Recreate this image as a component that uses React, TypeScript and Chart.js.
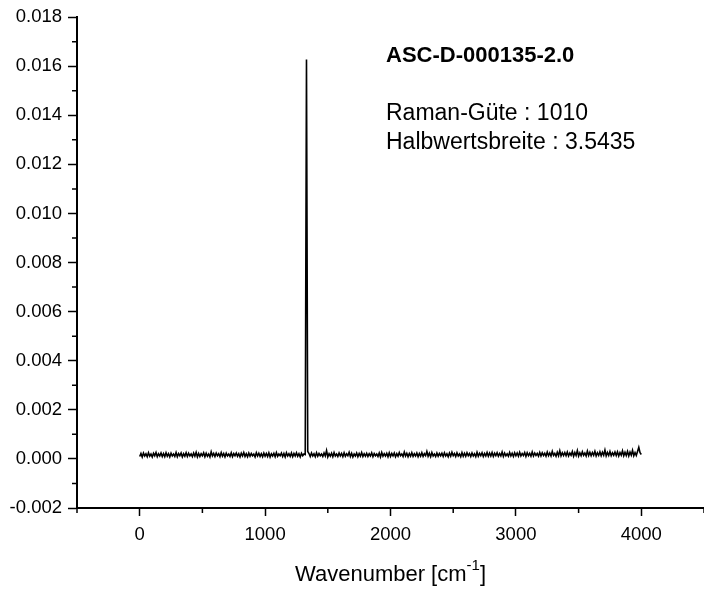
import React, { useEffect, useRef } from "react";
import { Chart, registerables } from "chart.js";

Chart.register(...registerables);

// ---- Data -------------------------------------------------------------
// Spectrum sampled every 10 cm^-1 from 0 to 4000 cm^-1.
const waveStart = 0;
const waveStep = 10;
// Intensity values in units of 1e-5.
const intensityE5: number[] = [
  // 0 - 190
  10, 22, 8, 24, 12, 21, 9, 25, 11, 20, 8, 23, 13, 26, 9, 21, 12, 24, 10, 22,
  // 200 - 390
  9, 25, 11, 21, 8, 23, 12, 20, 10, 26, 9, 22, 13, 24, 8, 21, 11, 25, 10, 23,
  // 400 - 590
  12, 20, 9, 24, 11, 27, 8, 22, 10, 21, 13, 25, 9, 23, 11, 20, 8, 29, 12, 22,
  // 600 - 790
  10, 24, 13, 21, 9, 26, 11, 22, 8, 23, 12, 20, 10, 25, 9, 22, 13, 24, 11, 21,
  // 800 - 990
  8, 23, 12, 26, 10, 21, 9, 24, 11, 22, 13, 20, 8, 25, 12, 23, 10, 21, 9, 24,
  // 1000 - 1190
  11, 22, 10, 25, 8, 21, 12, 23, 9, 26, 11, 20, 13, 24, 10, 22, 8, 25, 12, 21,
  // 1200 - 1390 (diamond line at 1330)
  10, 24, 9, 22, 12, 25, 11, 21, 8, 23, 13, 20, 18, 1627, 30, 22, 10, 24, 12, 21,
  // 1400 - 1590
  9, 25, 11, 22, 13, 20, 10, 24, 12, 34, 8, 21, 11, 23, 9, 26, 12, 20, 10, 24,
  // 1600 - 1790
  12, 22, 9, 25, 11, 21, 13, 27, 10, 23, 8, 20, 12, 24, 9, 22, 11, 26, 10, 21,
  // 1800 - 1990
  11, 23, 10, 21, 12, 25, 9, 22, 13, 20, 10, 24, 8, 26, 11, 21, 12, 23, 9, 25,
  // 2000 - 2190
  10, 22, 12, 24, 9, 21, 11, 26, 13, 20, 10, 28, 12, 23, 9, 22, 11, 25, 10, 21,
  // 2200 - 2390
  12, 24, 9, 22, 11, 25, 10, 21, 13, 30, 11, 23, 9, 26, 12, 20, 10, 24, 11, 22,
  // 2400 - 2590
  13, 23, 10, 25, 12, 21, 9, 24, 11, 27, 13, 22, 10, 25, 12, 20, 9, 26, 11, 23,
  // 2600 - 2790
  11, 25, 13, 22, 10, 24, 12, 21, 9, 27, 11, 23, 13, 25, 10, 22, 12, 26, 11, 24,
  // 2800 - 2990
  12, 26, 10, 23, 13, 25, 11, 22, 12, 28, 10, 24, 13, 21, 11, 26, 12, 23, 10, 25,
  // 3000 - 3190
  13, 24, 11, 27, 12, 22, 14, 26, 10, 25, 13, 23, 11, 28, 12, 24, 14, 22, 11, 26,
  // 3200 - 3390
  12, 25, 14, 23, 11, 28, 13, 24, 12, 31, 14, 22, 11, 27, 13, 33, 12, 25, 14, 26,
  // 3400 - 3590
  13, 28, 12, 24, 15, 30, 11, 26, 14, 34, 12, 25, 13, 29, 15, 24, 12, 32, 14, 27,
  // 3600 - 3790
  13, 26, 15, 31, 12, 25, 14, 29, 13, 27, 15, 36, 12, 26, 14, 30, 13, 25, 15, 28,
  // 3800 - 3990
  14, 29, 12, 26, 15, 33, 13, 27, 14, 31, 12, 28, 15, 35, 13, 26, 14, 30, 47, 25,
  // 4000
  18,
];

const xMin = -500;
const xMax = 4500;
const xMajorTicks = [0, 1000, 2000, 3000, 4000];
const xMinorTicks = [-500, 500, 1500, 2500, 3500, 4500];
const yMin = -0.002;
const yMax = 0.018;
const yStep = 0.002;
const yMinorTicks = [-0.001, 0.001, 0.003, 0.005, 0.007, 0.009, 0.011, 0.013, 0.015, 0.017];

const sampleName = "ASC-D-000135-2.0";
const infoLines = ["Raman-Güte : 1010", "Halbwertsbreite : 3.5435"];
const titleMain = "Wavenumber [cm";
const titleSup = "-1";
const titleEnd = "]";

const FONT = '"Liberation Sans", Arial, Helvetica, sans-serif';

const decorPlugin = {
  id: "decor",
  afterDraw(chart: any) {
    const { ctx, chartArea } = chart;
    const x = chart.scales.x;
    const y = chart.scales.y;
    ctx.save();
    // minor ticks
    ctx.strokeStyle = "#000";
    ctx.lineWidth = 1.5;
    ctx.beginPath();
    for (const v of xMinorTicks) {
      const px = x.getPixelForValue(v);
      ctx.moveTo(px, chartArea.bottom);
      ctx.lineTo(px, chartArea.bottom + 5);
    }
    for (const v of yMinorTicks) {
      const py = y.getPixelForValue(v);
      ctx.moveTo(chartArea.left - 5, py);
      ctx.lineTo(chartArea.left, py);
    }
    ctx.stroke();

    // annotation text
    ctx.fillStyle = "#000";
    ctx.textAlign = "left";
    ctx.textBaseline = "alphabetic";
    ctx.font = `bold 22px ${FONT}`;
    ctx.fillText(sampleName, 386, 62);
    ctx.font = `23px ${FONT}`;
    ctx.fillText(infoLines[0], 386, 120);
    ctx.fillText(infoLines[1], 386, 149);

    // axis title with superscript
    ctx.font = `22px ${FONT}`;
    const w1 = ctx.measureText(titleMain).width;
    const w3 = ctx.measureText(titleEnd).width;
    ctx.font = `15px ${FONT}`;
    const w2 = ctx.measureText(titleSup).width;
    const cx = (chartArea.left + chartArea.right) / 2;
    const sx = cx - (w1 + w2 + w3) / 2;
    const base = 581;
    ctx.font = `22px ${FONT}`;
    ctx.fillText(titleMain, sx, base);
    ctx.font = `15px ${FONT}`;
    ctx.fillText(titleSup, sx + w1, base - 11);
    ctx.font = `22px ${FONT}`;
    ctx.fillText(titleEnd, sx + w1 + w2, base);
    ctx.restore();
  },
};

export default function App() {
  const canvasRef = useRef<HTMLCanvasElement | null>(null);

  useEffect(() => {
    const canvas = canvasRef.current;
    if (!canvas) return;
    const points = intensityE5.map((v, i) => ({ x: waveStart + i * waveStep, y: v * 1e-5 }));
    const chart = new Chart(canvas, {
      type: "line",
      data: {
        datasets: [
          {
            data: points,
            borderColor: "#000",
            borderWidth: 1.6,
            pointRadius: 0,
            tension: 0,
            fill: false,
          },
        ],
      },
      options: {
        animation: false,
        responsive: false,
        devicePixelRatio: 1,
        layout: { padding: { top: 16, left: 0, right: 0, bottom: 0 } },
        plugins: {
          legend: { display: false },
          tooltip: { enabled: false },
        },
        scales: {
          x: {
            type: "linear",
            min: xMin,
            max: xMax,
            afterBuildTicks: (scale: any) => {
              scale.ticks = xMajorTicks.map((v) => ({ value: v }));
            },
            afterFit: (scale: any) => {
              scale.height = 86;
            },
            border: { display: true, color: "#000", width: 2 },
            grid: {
              display: true,
              drawOnChartArea: false,
              drawTicks: true,
              tickLength: 8,
              tickColor: "#000",
              tickWidth: 1.5,
              color: "#000",
            },
            ticks: {
              color: "#000",
              font: { family: FONT, size: 18.5 },
              padding: 8,
              maxRotation: 0,
              autoSkip: false,
              callback: (v: any) => String(v),
            },
          },
          y: {
            type: "linear",
            min: yMin,
            max: yMax,
            afterFit: (scale: any) => {
              scale.width = 77;
            },
            border: { display: true, color: "#000", width: 2 },
            grid: {
              display: true,
              drawOnChartArea: false,
              drawTicks: true,
              tickLength: 9,
              tickColor: "#000",
              tickWidth: 1.5,
              color: "#000",
            },
            ticks: {
              stepSize: yStep,
              color: "#000",
              font: { family: FONT, size: 18.5 },
              padding: 6,
              callback: (v: any) => {
                const n = Number(v);
                return (Math.abs(n) < 1e-9 ? 0 : n).toFixed(3);
              },
            },
          },
        },
      },
      plugins: [decorPlugin],
    });
    return () => chart.destroy();
  }, []);

  return (
    <div style={{ position: "fixed", left: 0, top: 0, width: 704, height: 594, background: "#fff" }}>
      <canvas ref={canvasRef} width={704} height={594} style={{ width: 704, height: 594 }} />
    </div>
  );
}
